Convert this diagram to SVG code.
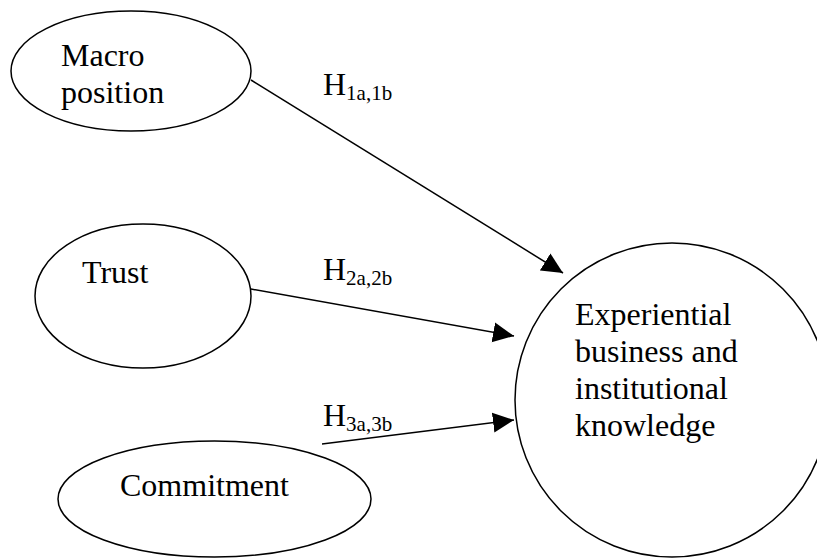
<svg xmlns="http://www.w3.org/2000/svg" width="817" height="559" viewBox="0 0 817 559">
<style>
  .node { fill: #ffffff; stroke: #000000; stroke-width: 1.5; }
  .lbl { font-family: "Liberation Serif", "Times New Roman", serif; font-size: 32px; fill: #000000; }
  .sub { font-size: 21px; }
  .edge { stroke: #000000; stroke-width: 1.5; fill: none; marker-end: url(#arrow); }
</style>
<defs>
  <marker id="arrow" markerUnits="userSpaceOnUse" markerWidth="22" markerHeight="22" refX="21" refY="10" orient="auto" viewBox="0 0 22 20">
    <path d="M0,0 L21,10 L0,20 Z" fill="#000000"/>
  </marker>
</defs>
<rect width="817" height="559" fill="#ffffff"/>
<g id="macro-position">
  <ellipse class="node" cx="131" cy="71" rx="120" ry="60"/>
  <text class="lbl" x="61" y="66">Macro</text>
  <text class="lbl" x="61" y="103">position</text>
</g>
<g id="trust">
  <ellipse class="node" cx="143" cy="296" rx="108" ry="72"/>
  <text class="lbl" x="82" y="283">Trust</text>
</g>
<g id="commitment">
  <ellipse class="node" cx="214.5" cy="499" rx="156.5" ry="58"/>
  <text class="lbl" x="120" y="496">Commitment</text>
</g>
<g id="knowledge">
  <circle class="node" cx="672" cy="400" r="157"/>
  <text class="lbl" x="575" y="325">Experiential</text>
  <text class="lbl" x="575" y="362">business and</text>
  <text class="lbl" x="575" y="399">institutional</text>
  <text class="lbl" x="575" y="436">knowledge</text>
</g>
<g id="connectors">
  <line class="edge" x1="251" y1="80" x2="563" y2="273"/>
  <line class="edge" x1="251" y1="289" x2="514" y2="336"/>
  <line class="edge" x1="322" y1="444" x2="514" y2="420"/>
  <text class="lbl" x="323" y="95">H<tspan class="sub" dy="5">1a,1b</tspan></text>
  <text class="lbl" x="323" y="280">H<tspan class="sub" dy="5">2a,2b</tspan></text>
  <text class="lbl" x="323" y="426">H<tspan class="sub" dy="5">3a,3b</tspan></text>
</g>
</svg>
